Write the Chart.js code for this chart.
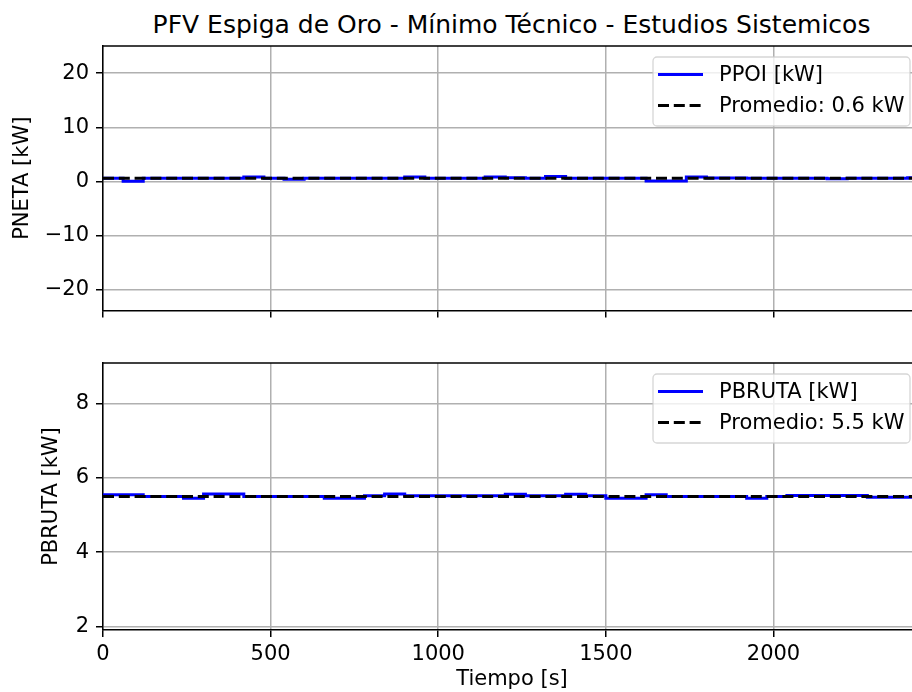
<!DOCTYPE html>
<html>
<head>
<meta charset="utf-8">
<script src="https://cdn.jsdelivr.net/npm/chart.js@4.4.0/dist/chart.umd.min.js"></script>
<style>
  html, body { margin: 0; padding: 0; background: #fff; }
  body { width: 912px; height: 692px; overflow: hidden; position: relative; }
  #titulo {
    position: absolute; left: 0; top: 12px; width: 1023px;
    text-align: center; font: 25px "DejaVu Sans"; line-height: 1; color: #000;
    white-space: nowrap;
  }
  .panel { position: absolute; left: 0; }
</style>
</head>
<body>
<div id="titulo">PFV Espiga de Oro - Mínimo Técnico - Estudios Sistemicos</div>
<div class="panel" style="top:0"><canvas id="chartPoi" width="940" height="330"></canvas></div>
<div class="panel" style="top:340px"><canvas id="chartBruta" width="940" height="352"></canvas></div>
<script>
// datos (escalones de 60 s)
const tiempo = [0, 60, 120, 180, 240, 300, 360, 420, 480, 540, 600, 660, 720, 780, 840, 900, 960, 1020, 1080, 1140,
                1200, 1260, 1320, 1380, 1440, 1500, 1560, 1620, 1680, 1740, 1800, 1860, 1920, 1980, 2040, 2100, 2160,
                2220, 2280, 2340, 2400, 2440];
const pPoi = [0.6, 0.05, 0.6, 0.6, 0.6, 0.6, 0.6, 0.8, 0.6, 0.4, 0.6, 0.6, 0.6, 0.6, 0.6, 0.8, 0.6, 0.6, 0.6, 0.8,
              0.7, 0.6, 0.9, 0.6, 0.6, 0.6, 0.6, 0.1, 0.1, 0.8, 0.65, 0.65, 0.6, 0.6, 0.6, 0.6, 0.5,
              0.6, 0.6, 0.6, 0.7, 0.7];
const pBruta = [5.55, 5.55, 5.5, 5.5, 5.45, 5.57, 5.57, 5.5, 5.5, 5.5, 5.5, 5.45, 5.45, 5.52, 5.57, 5.52, 5.52, 5.52, 5.52, 5.52,
                5.56, 5.52, 5.52, 5.56, 5.52, 5.45, 5.45, 5.55, 5.5, 5.5, 5.5, 5.5, 5.45, 5.5, 5.53, 5.53, 5.53,
                5.53, 5.48, 5.48, 5.48, 5.48];
const promPoi = 0.6;
const promBruta = 5.5;
const xTicks = [0, 500, 1000, 1500, 2000];
const yTicksPoi = [-20, -10, 0, 10, 20];
const yTicksBruta = [2, 4, 6, 8];

const FONT = 'DejaVu Sans';
const FSIZE = 21;
const xMax = tiempo[tiempo.length - 1];

function toPts(xs, ys) {
    return xs.map((x, i) => ({ x: x, y: ys[i] }));
}

function menos(v) {
    return String(v).replace('-', '\u2212');
}

// leyenda estilo matplotlib, arriba a la derecha dentro del area
function legendPlugin(items) {
    return {
        id: 'mplLegend',
        afterDatasetsDraw(chart) {
            const ctx = chart.ctx;
            const a = chart.chartArea;
            const w = 257, h = 69;
            const x0 = a.right - 268, y0 = a.top + 11;
            ctx.save();
            ctx.beginPath();
            ctx.roundRect(x0, y0, w, h, 4);
            ctx.fillStyle = 'rgba(255,255,255,0.8)';
            ctx.fill();
            ctx.strokeStyle = 'rgba(204,204,204,0.8)';
            ctx.lineWidth = 1.3;
            ctx.stroke();
            ctx.font = FSIZE + 'px "' + FONT + '"';
            ctx.textBaseline = 'middle';
            ctx.fillStyle = '#000';
            items.forEach((it, i) => {
                const y = y0 + 17.5 + i * 31;
                ctx.beginPath();
                ctx.setLineDash(it.dash || []);
                ctx.strokeStyle = it.color;
                ctx.lineWidth = 3;
                ctx.moveTo(x0 + 5, y);
                ctx.lineTo(x0 + 50, y);
                ctx.stroke();
                ctx.setLineDash([]);
                ctx.fillText(it.label, x0 + 66, y + 1);
            });
            ctx.restore();
        }
    };
}

const framePlugin = {
    id: 'frame',
    afterDraw(chart) {
        const ctx = chart.ctx;
        const a = chart.chartArea;
        ctx.save();
        ctx.strokeStyle = '#000';
        ctx.lineWidth = 1.5;
        ctx.beginPath();
        ctx.moveTo(a.left, a.top);
        ctx.lineTo(a.right, a.top);
        ctx.stroke();
        ctx.restore();
    }
};

function makeChart(id, serie, prom, labelSerie, yMin, yMax, yTicks, yTitle, yTitlePad, bottomPanel) {
    const ctx = document.getElementById(id).getContext('2d');
    return new Chart(ctx, {
        type: 'line',
        data: {
            datasets: [{
                label: labelSerie,
                data: toPts(tiempo, serie),
                borderColor: '#0000ff',
                borderWidth: 3,
                pointRadius: 0,
                stepped: 'before',
                fill: false,
                order: 1
            }, {
                label: 'Promedio: ' + prom.toFixed(1) + ' kW',
                data: toPts([0, xMax], [prom, prom]),
                borderColor: '#000000',
                borderWidth: 3,
                borderDash: [11, 4.8],
                pointRadius: 0,
                fill: false,
                order: 0
            }]
        },
        options: {
            responsive: false,
            animation: false,
            events: [],
            layout: {
                padding: { top: bottomPanel ? 23 : 46, right: 19, left: 0, bottom: 0 }
            },
            plugins: {
                legend: { display: false },
                tooltip: { enabled: false }
            },
            scales: {
                x: {
                    type: 'linear',
                    min: 0,
                    max: xMax,
                    afterBuildTicks: function(scale) {
                        scale.ticks = xTicks.map(v => ({ value: v }));
                    },
                    afterFit: function(scale) {
                        scale.height = bottomPanel ? 62 : 19;
                    },
                    grid: {
                        color: '#b0b0b0',
                        lineWidth: 1.5,
                        tickColor: '#000',
                        tickLength: 7
                    },
                    border: { color: '#000', width: 1.5 },
                    ticks: {
                        display: bottomPanel,
                        color: '#000',
                        padding: 5,
                        maxRotation: 0,
                        font: { family: FONT, size: FSIZE },
                        callback: v => String(v)
                    },
                    title: {
                        display: bottomPanel,
                        text: 'Tiempo [s]',
                        color: '#000',
                        padding: { top: 0, bottom: 0 },
                        font: { family: FONT, size: FSIZE }
                    }
                },
                y: {
                    min: yMin,
                    max: yMax,
                    afterBuildTicks: function(scale) {
                        scale.ticks = yTicks.map(v => ({ value: v }));
                    },
                    afterFit: function(scale) {
                        scale.width = 103;
                    },
                    grid: {
                        color: '#b0b0b0',
                        lineWidth: 1.5,
                        tickColor: '#000',
                        tickLength: 7
                    },
                    border: { color: '#000', width: 1.5 },
                    ticks: {
                        color: '#000',
                        padding: 7,
                        font: { family: FONT, size: FSIZE },
                        callback: v => menos(v)
                    },
                    title: {
                        display: true,
                        text: yTitle,
                        color: '#000',
                        padding: { top: yTitlePad, bottom: 0 },
                        font: { family: FONT, size: FSIZE }
                    }
                }
            }
        },
        plugins: [framePlugin, legendPlugin([
            { label: labelSerie, color: '#0000ff' },
            { label: 'Promedio: ' + prom.toFixed(1) + ' kW', color: '#000', dash: [11, 4.8] }
        ])]
    });
}

makeChart('chartPoi', pPoi, promPoi, 'PPOI [kW]', -23.8, 25.0, yTicksPoi, 'PNETA [kW]', 9.9, false);
makeChart('chartBruta', pBruta, promBruta, 'PBRUTA [kW]', 1.9, 9.1, yTicksBruta, 'PBRUTA [kW]', 39.4, true);
</script>
</body>
</html>
